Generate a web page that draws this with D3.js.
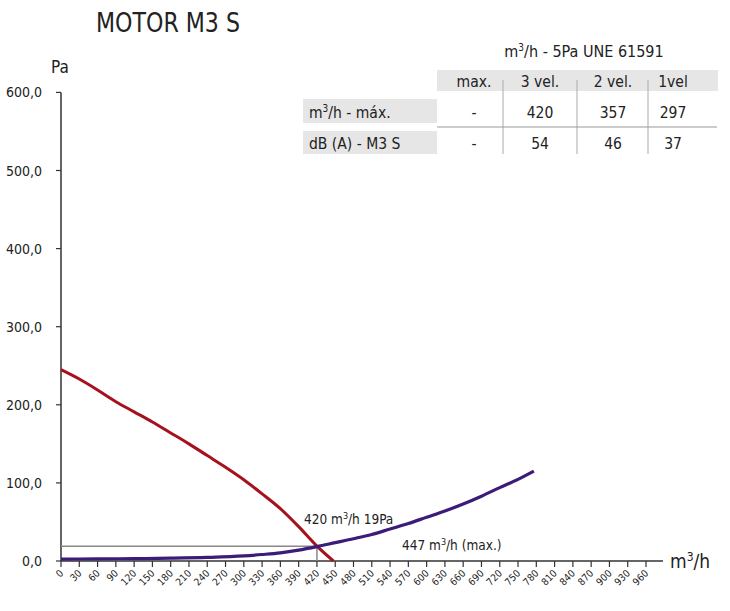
<!DOCTYPE html>
<html><head><meta charset="utf-8">
<script src="https://cdn.jsdelivr.net/npm/d3@7"></script>
<style>
body{margin:0;background:#fff;}
svg text{font-family:"Liberation Sans Narrow","Arial Narrow","DejaVu Sans Condensed",sans-serif;fill:#222;}
</style></head><body>
<svg id="c" width="730" height="611"></svg>
<script>
// ---- data ----
const xTicks = d3.range(0, 961, 30);
const yTicks = [0, 100, 200, 300, 400, 500, 600];
const fanCurve = [[0,245],[30,233],[60,219],[90,204],[120,191],[150,178],[180,164],[210,150],[240,135],[270,120],[300,104],[330,86],[360,67],[390,44],[420,19],[447,0]];
const systemCurve = [[0,2.5],[60,2.7],[120,3],[180,3.6],[240,4.6],[300,6.5],[330,8.3],[360,10.5],[390,14],[420,18.5],[450,23.5],[480,28.5],[510,34],[540,41],[570,48],[600,56],[630,64],[660,73],[690,83],[720,94],[750,104.5],[776,115]];
const opPoint = [420, 19];
const tableHeaders = ["max.", "3 vel.", "2 vel.", "1vel"];
const rowFlow = ["-", "420", "357", "297"];
const rowDb = ["-", "54", "46", "37"];

const svg = d3.select("#c");
const x = d3.scaleLinear().domain([0, 960]).range([61, 646]);
const y = d3.scaleLinear().domain([0, 600]).range([561, 92.4]);

// title
svg.append("text").attr("x", 96).attr("y", 32).attr("font-size", 27)
  .attr("textLength", 144).attr("lengthAdjust", "spacingAndGlyphs").text("MOTOR M3 S");

// axes
const xa = svg.append("g").attr("transform", "translate(0,561)");
xa.append("line").attr("x1", 61).attr("x2", 663).attr("stroke", "#333").attr("stroke-width", 1.5);
xa.selectAll("line.t").data(xTicks).join("line").attr("class","t")
  .attr("x1", d => x(d)).attr("x2", d => x(d)).attr("y1", 0).attr("y2", 6).attr("stroke", "#333").attr("stroke-width", 1.2);
xa.selectAll("text.t").data(xTicks).join("text").attr("class","t")
  .attr("font-size", 10).attr("text-anchor", "end")
  .attr("transform", d => `translate(${x(d)+3},${13}) rotate(-45)`).text(d => d);
svg.append("text").attr("x", 670).attr("y", 568).attr("font-size", 19)
  .html('m<tspan font-size="12" dy="-7">3</tspan><tspan dy="7">/h</tspan>');

const ya = svg.append("g").attr("transform", "translate(61,0)");
ya.append("line").attr("y1", y(600)).attr("y2", y(0)).attr("stroke", "#333").attr("stroke-width", 1.5);
ya.selectAll("line.t").data(yTicks).join("line").attr("class","t")
  .attr("x1", -5).attr("x2", 0).attr("y1", d => y(d)).attr("y2", d => y(d)).attr("stroke", "#333").attr("stroke-width", 1.2);
ya.selectAll("text.t").data(yTicks).join("text").attr("class","t")
  .attr("x", -19).attr("y", d => y(d) + 5).attr("font-size", 14).attr("text-anchor", "end")
  .text(d => d3.format(".1f")(d).replace(".", ","));
svg.append("text").attr("x", 51).attr("y", 73).attr("font-size", 17).text("Pa");

// reference lines
svg.append("line").attr("x1", x(0)).attr("x2", x(opPoint[0])).attr("y1", y(opPoint[1])).attr("y2", y(opPoint[1]))
  .attr("stroke", "#888").attr("stroke-width", 1.5);
svg.append("line").attr("x1", x(opPoint[0])).attr("x2", x(opPoint[0])).attr("y1", y(opPoint[1])).attr("y2", y(0))
  .attr("stroke", "#888").attr("stroke-width", 1.5);

// curves
const line = d3.line().x(d => x(d[0])).y(d => y(d[1])).curve(d3.curveMonotoneX);
svg.append("path").datum(fanCurve).attr("d", line).attr("fill", "none").attr("stroke", "#a5111d").attr("stroke-width", 3);
svg.append("path").datum(systemCurve).attr("d", line).attr("fill", "none").attr("stroke", "#3b1c78").attr("stroke-width", 3.2);

// labels
svg.append("text").attr("x", 304).attr("y", 524).attr("font-size", 13.5)
  .html('420 m<tspan font-size="9" dy="-5">3</tspan><tspan dy="5">/h 19Pa</tspan>');
svg.append("text").attr("x", 402).attr("y", 550).attr("font-size", 13.5)
  .html('447 m<tspan font-size="9" dy="-5">3</tspan><tspan dy="5">/h (max.)</tspan>');

// table
const colX = [474, 540, 613, 673];
svg.append("text").attr("x", 584).attr("y", 57).attr("font-size", 16).attr("text-anchor", "middle")
  .html('m<tspan font-size="10" dy="-6">3</tspan><tspan dy="6">/h - 5Pa UNE 61591</tspan>');
svg.append("rect").attr("x", 437).attr("y", 70).attr("width", 281).attr("height", 21).attr("fill", "#e6e6e6");
svg.append("rect").attr("x", 303).attr("y", 99).attr("width", 134).attr("height", 24).attr("fill", "#e6e6e6");
svg.append("rect").attr("x", 303).attr("y", 131).attr("width", 134).attr("height", 23).attr("fill", "#e6e6e6");
[503, 577, 648].forEach(v => {
  svg.append("line").attr("x1", v).attr("x2", v).attr("y1", 80).attr("y2", 154).attr("stroke", "#aaa").attr("stroke-width", 1);
});
svg.append("line").attr("x1", 437).attr("x2", 717).attr("y1", 127).attr("y2", 127).attr("stroke", "#999").attr("stroke-width", 1.2);
svg.selectAll("text.h").data(tableHeaders).join("text").attr("class","h")
  .attr("x", (d,i) => colX[i]).attr("y", 87).attr("font-size", 15.5).attr("text-anchor", "middle").text(d => d);
svg.selectAll("text.r1").data(rowFlow).join("text").attr("class","r1")
  .attr("x", (d,i) => colX[i]).attr("y", 118).attr("font-size", 15.5).attr("text-anchor", "middle").text(d => d);
svg.selectAll("text.r2").data(rowDb).join("text").attr("class","r2")
  .attr("x", (d,i) => colX[i]).attr("y", 149).attr("font-size", 15.5).attr("text-anchor", "middle").text(d => d);
svg.append("text").attr("x", 309).attr("y", 118).attr("font-size", 15.5)
  .html('m<tspan font-size="10" dy="-6">3</tspan><tspan dy="6">/h - máx.</tspan>');
svg.append("text").attr("x", 309).attr("y", 149).attr("font-size", 15.5).text("dB (A) - M3 S");
</script></body></html>
